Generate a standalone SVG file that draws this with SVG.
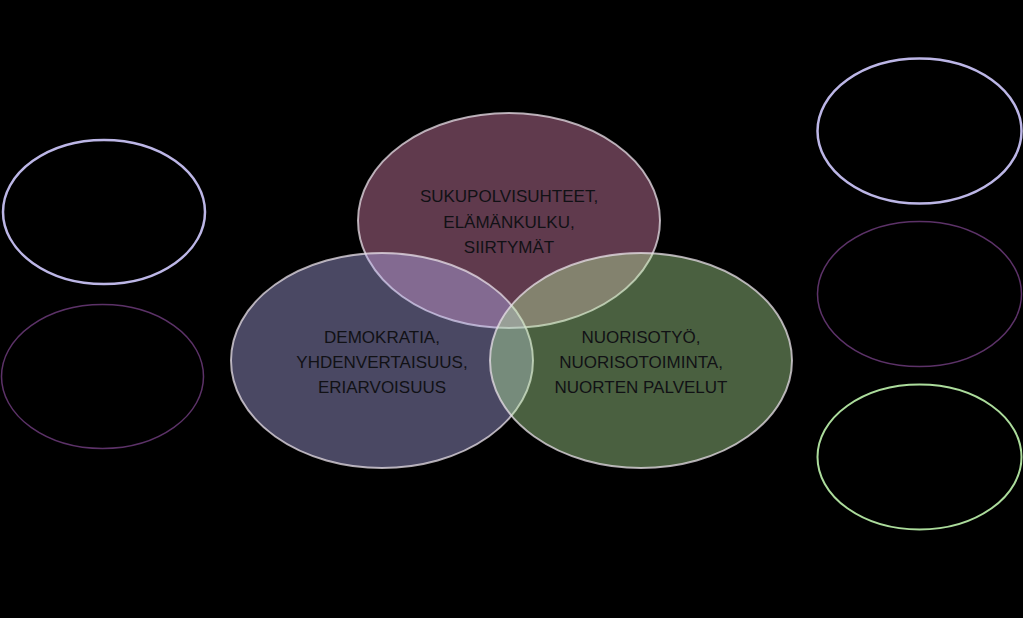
<svg xmlns="http://www.w3.org/2000/svg" width="1023" height="618" viewBox="0 0 1023 618">
<style>
.venn{stroke:#e8e0e8;stroke-opacity:0.75;stroke-width:2;}
.lbl{font-family:"Liberation Sans",Arial,sans-serif;font-size:17px;fill:#111115;text-anchor:middle;}
.side{fill:none;}
</style>
<rect width="1023" height="618" fill="#000"/>
<g id="venn-top"><ellipse class="venn" cx="509" cy="220.5" rx="151" ry="107.5" fill="#f090c0" fill-opacity="0.4"/></g>
<g id="venn-left"><ellipse class="venn" cx="382" cy="360.5" rx="151" ry="107.5" fill="#b8b4f8" fill-opacity="0.4"/></g>
<g id="venn-right"><ellipse class="venn" cx="641" cy="360.5" rx="151" ry="107.5" fill="#b8f0a0" fill-opacity="0.4"/></g>
<g id="labels">
<text class="lbl" x="509" y="202">SUKUPOLVISUHTEET,</text>
<text class="lbl" x="509" y="228">ELÄMÄNKULKU,</text>
<text class="lbl" x="509" y="253">SIIRTYMÄT</text>
<text class="lbl" x="382" y="343">DEMOKRATIA,</text>
<text class="lbl" x="382" y="368">YHDENVERTAISUUS,</text>
<text class="lbl" x="382" y="393">ERIARVOISUUS</text>
<text class="lbl" x="641" y="343">NUORISOTYÖ,</text>
<text class="lbl" x="641" y="368">NUORISOTOIMINTA,</text>
<text class="lbl" x="641" y="393">NUORTEN PALVELUT</text>
</g>
<g id="side-left-top"><ellipse class="side" cx="104" cy="212" rx="101" ry="72" stroke="#bcb6e6" stroke-width="2.5"/></g>
<g id="side-left-bottom"><ellipse class="side" cx="102.5" cy="376.5" rx="101" ry="72" stroke="#5c3268" stroke-width="1.5"/></g>
<g id="side-right-top"><ellipse class="side" cx="919.5" cy="131" rx="102" ry="72.5" stroke="#bcb6e6" stroke-width="2.5"/></g>
<g id="side-right-middle"><ellipse class="side" cx="919.5" cy="294" rx="102" ry="72.5" stroke="#5c3268" stroke-width="1.5"/></g>
<g id="side-right-bottom"><ellipse class="side" cx="919.5" cy="457" rx="102" ry="72.5" stroke="#acdc9c" stroke-width="2"/></g>
<g id="connectors"/>
</svg>
